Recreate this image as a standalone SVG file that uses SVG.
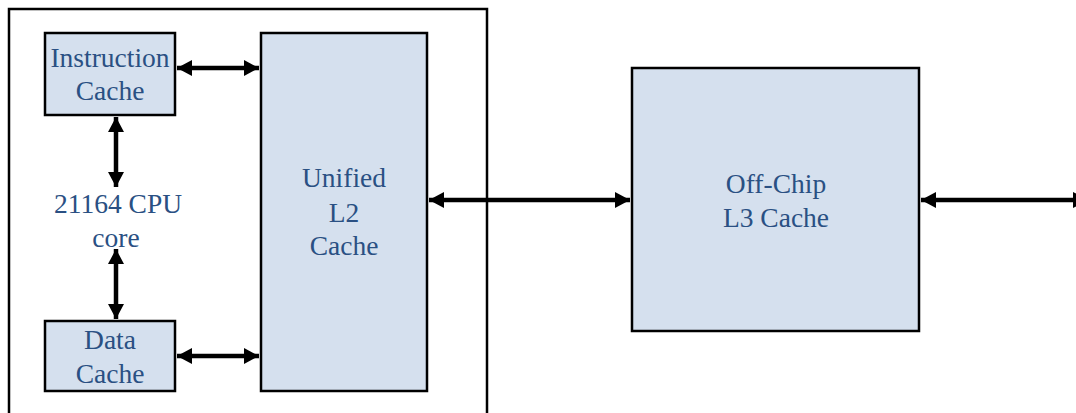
<svg xmlns="http://www.w3.org/2000/svg" width="1076" height="413" viewBox="0 0 1076 413">
<style>
.box{fill:#d5e0ee;stroke:#000;stroke-width:2.5}
.frame{fill:none;stroke:#000;stroke-width:2.5}
.lbl{font-family:"Liberation Serif","Times New Roman",serif;font-size:27.5px;fill:#2a5083;text-anchor:middle}
.conn{stroke:#000;stroke-width:4.5;fill:none;marker-start:url(#ah);marker-end:url(#ah)}
</style>
<defs>
<marker id="ah" markerUnits="userSpaceOnUse" markerWidth="16" markerHeight="18" viewBox="0 -9 16 18" refX="15" refY="0" orient="auto-start-reverse">
<path d="M0,-8 L15,0 L0,8 Z" fill="#000"/>
</marker>
</defs>
<rect x="0" y="0" width="1076" height="413" fill="#fff"/>
<g id="chip">
<rect class="frame" x="9" y="9" width="478" height="420"/>
</g>
<g id="icache">
<rect class="box" x="45" y="33" width="130" height="82"/>
<text class="lbl" x="110" y="67">Instruction</text>
<text class="lbl" x="110" y="100">Cache</text>
</g>
<g id="dcache">
<rect class="box" x="45" y="321" width="130" height="70"/>
<text class="lbl" x="110" y="349">Data</text>
<text class="lbl" x="110" y="383">Cache</text>
</g>
<g id="cpu">
<text class="lbl" x="118" y="213">21164 CPU</text>
<text class="lbl" x="116" y="247">core</text>
</g>
<g id="l2">
<rect class="box" x="261" y="33" width="166" height="358"/>
<text class="lbl" x="344" y="187">Unified</text>
<text class="lbl" x="344" y="222">L2</text>
<text class="lbl" x="344" y="255">Cache</text>
</g>
<g id="l3">
<rect class="box" x="632" y="68" width="287" height="263"/>
<text class="lbl" x="776" y="193">Off-Chip</text>
<text class="lbl" x="776" y="227">L3 Cache</text>
</g>
<g id="connectors">
<line class="conn" x1="177" y1="68" x2="259" y2="68"/>
<line class="conn" x1="177" y1="356" x2="259" y2="356"/>
<line class="conn" x1="116" y1="117" x2="116" y2="187"/>
<line class="conn" x1="116" y1="249" x2="116" y2="319"/>
<line class="conn" x1="429" y1="200" x2="630" y2="200"/>
<line class="conn" x1="921" y1="200" x2="1088" y2="200"/>
</g>
</svg>
